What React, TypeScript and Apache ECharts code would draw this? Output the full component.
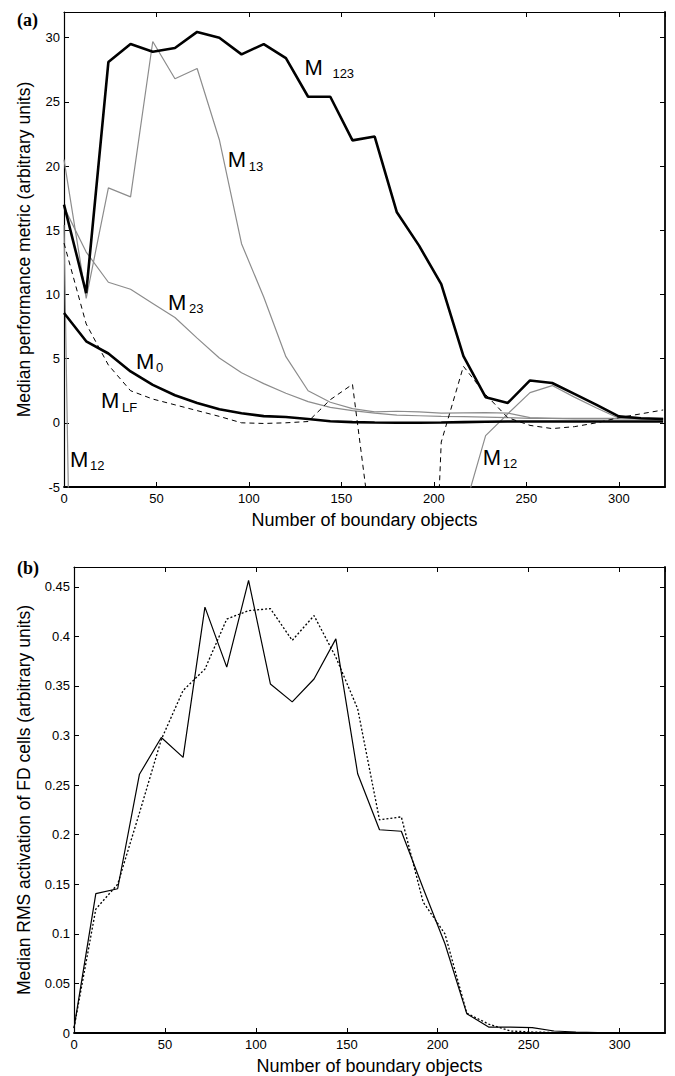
import React, { useEffect, useRef } from "react";
import * as echarts from "echarts";

// ---------- data ----------
const xs = [0, 12, 24, 36, 48, 60, 72, 84, 96, 108, 120, 132, 144, 156, 168, 180, 192, 204, 216, 228, 240, 252, 264, 276, 288, 300, 312, 324];

const m123 = [17.0, 10.1, 28.1, 29.5, 28.9, 29.2, 30.45, 30.0, 28.7, 29.5, 28.4, 25.4, 25.4, 22.0, 22.3, 16.4, 13.8, 10.8, 5.2, 2.0, 1.55, 3.3, 3.1, 2.25, 1.4, 0.5, 0.35, 0.3];
const m13 = [20.5, 9.7, 18.3, 17.6, 29.7, 26.8, 27.6, 22.05, 13.95, 9.8, 5.15, 2.5, 1.6, 1.1, 0.85, 0.9, 0.85, 0.75, 0.78, 0.8, 0.75, 0.4, 0.35, 0.35, 0.35, 0.35, 0.35, 0.35];
const m23 = [16.8, 13.3, 10.95, 10.4, 9.3, 8.2, 6.6, 5.05, 3.9, 3.05, 2.3, 1.65, 1.2, 0.95, 0.75, 0.6, 0.55, 0.5, 0.48, 0.45, 0.4, 0.35, 0.35, 0.3, 0.3, 0.3, 0.3, 0.3];
const m12 = [15.4, -90, null, null, null, null, null, null, null, null, null, null, null, null, null, null, null, null, -7.0, -1.0, 0.7, 2.35, 2.9, 2.0, 1.15, 0.35, 0.3, 0.25];
const mLF = [14.0, 7.7, 4.5, 2.5, 1.85, 1.4, 0.95, 0.5, 0.0, -0.05, 0.0, 0.1, 1.8, 3.0, -10.5, null, -43, -1.5, 4.4, 2.2, 0.4, -0.2, -0.45, -0.3, 0.0, 0.4, 0.7, 1.0];
const m0 = [8.55, 6.35, 5.4, 4.0, 2.95, 2.15, 1.55, 1.05, 0.75, 0.52, 0.45, 0.3, 0.12, 0.05, 0.02, 0.0, 0.0, 0.02, 0.05, 0.08, 0.1, 0.1, 0.1, 0.1, 0.1, 0.1, 0.1, 0.1];

const rmsSolid = [0.005, 0.1405, 0.1455, 0.261, 0.298, 0.278, 0.4295, 0.369, 0.4565, 0.352, 0.334, 0.357, 0.3975, 0.2615, 0.205, 0.2035, 0.146, 0.09, 0.0195, 0.006, 0.006, 0.0055, 0.002, 0.001, 0.0005, 0, 0, 0];
const rmsDotted = [0.005, 0.125, 0.15, 0.222, 0.296, 0.3455, 0.367, 0.4175, 0.426, 0.428, 0.396, 0.421, 0.379, 0.327, 0.215, 0.218, 0.132, 0.1, 0.02, 0.009, 0.002, 0.001, 0.0005, 0, 0, 0, 0, 0];

const xTitle = "Number of boundary objects";
const yTitleTop = "Median performance metric (arbitrary units)";
const yTitleBottom = "Median RMS activation of FD cells (arbitrary units)";

// curve labels: main letter + subscript, anchored in data coordinates of panel (a)
const curveLabels = [
  { sub: "123", x: 130, y: 27.7, dx: 28 },
  { sub: "13", x: 88.5, y: 20.5, dx: 21 },
  { sub: "23", x: 56.2, y: 9.4, dx: 21 },
  { sub: "0", x: 38.9, y: 4.8, dx: 20 },
  { sub: "LF", x: 20.0, y: 1.7, dx: 21 },
  { sub: "12", x: 3.2, y: -2.85, dx: 20 },
  { sub: "12", x: 226.4, y: -2.7, dx: 20 },
];

const SANS = "'Liberation Sans', Arial, Helvetica, sans-serif";
const SERIF = "'Liberation Serif', 'Times New Roman', serif";
const GRAY = "#8c8c8c";

const pairs = (ys: (number | null)[]) => xs.map((x, i) => [x, ys[i]]);

function xAxes(grid: number, top: boolean) {
  const common = {
    gridIndex: grid,
    type: "value",
    min: 0,
    max: 325,
    interval: 50,
    splitLine: { show: false },
    axisTick: { show: true, inside: true, length: 5, lineStyle: { color: "#000", width: 1 } },
  };
  if (top) {
    return {
      ...common,
      position: "top",
      axisLine: { show: true, onZero: false, lineStyle: { color: "#000", width: 1.2 } },
      axisLabel: { show: false },
    };
  }
  return {
    ...common,
    position: "bottom",
    axisLine: { show: true, onZero: false, lineStyle: { color: "#000", width: 1.8 } },
    axisLabel: {
      color: "#000",
      fontSize: 13,
      fontFamily: SANS,
      margin: 5,
      showMaxLabel: false,
      formatter: (v: number) => (v % 50 === 0 ? String(v) : ""),
    },
    name: xTitle,
    nameLocation: "middle",
    nameGap: 24,
    nameTextStyle: { color: "#000", fontSize: 18, fontFamily: SANS },
  };
}

function yAxes(grid: number, right: boolean, min: number, max: number, interval: number, title: string, gap: number, fmt: (v: number) => string) {
  const common = {
    gridIndex: grid,
    type: "value",
    min,
    max,
    interval,
    splitLine: { show: false },
    axisTick: { show: true, inside: true, length: 5, lineStyle: { color: "#000", width: 1 } },
  };
  if (right) {
    return {
      ...common,
      position: "right",
      axisLine: { show: true, onZero: false, lineStyle: { color: "#000", width: 1.8 } },
      axisLabel: { show: false },
    };
  }
  return {
    ...common,
    position: "left",
    axisLine: { show: true, onZero: false, lineStyle: { color: "#000", width: 1.2 } },
    axisLabel: {
      color: "#000",
      fontSize: 13,
      fontFamily: SANS,
      margin: 4,
      showMaxLabel: false,
      formatter: fmt,
    },
    name: title,
    nameLocation: "middle",
    nameGap: gap,
    nameTextStyle: { color: "#000", fontSize: 17.5, fontFamily: SANS },
  };
}

export default function App() {
  const ref = useRef<HTMLDivElement>(null);

  useEffect(() => {
    if (!ref.current) return;
    const chart = echarts.init(ref.current, null, { renderer: "svg" });

    const lineBase = { type: "line", showSymbol: false, symbol: "none", clip: true, connectNulls: false };

    const option: any = {
      animation: false,
      backgroundColor: "#fff",
      grid: [
        { left: 64, top: 12, width: 601, height: 475 },
        { left: 74, top: 567, width: 591, height: 466 },
      ],
      xAxis: [xAxes(0, false), xAxes(0, true), xAxes(1, false), xAxes(1, true)],
      yAxis: [
        yAxes(0, false, -5, 32, 5, yTitleTop, 31, (v: number) => (v % 5 === 0 ? String(v) : "")),
        yAxes(0, true, -5, 32, 5, "", 0, (v: number) => ""),
        yAxes(1, false, 0, 0.47, 0.05, yTitleBottom, 41, (v: number) => {
          const r = Math.round(v * 100) / 100;
          return Math.abs(v * 20 - Math.round(v * 20)) < 1e-6 ? String(r) : "";
        }),
        yAxes(1, true, 0, 0.47, 0.05, "", 0, (v: number) => ""),
      ],
      series: [
        { ...lineBase, name: "M13", xAxisIndex: 0, yAxisIndex: 0, data: pairs(m13), lineStyle: { color: GRAY, width: 1.2 } },
        { ...lineBase, name: "M23", xAxisIndex: 0, yAxisIndex: 0, data: pairs(m23), lineStyle: { color: GRAY, width: 1.2 } },
        { ...lineBase, name: "M12", xAxisIndex: 0, yAxisIndex: 0, data: pairs(m12), lineStyle: { color: GRAY, width: 1.2 } },
        { ...lineBase, name: "MLF", xAxisIndex: 0, yAxisIndex: 0, data: pairs(mLF), lineStyle: { color: "#000", width: 1, type: [5, 4] } },
        { ...lineBase, name: "M0", xAxisIndex: 0, yAxisIndex: 0, data: pairs(m0), lineStyle: { color: "#000", width: 2.6 } },
        { ...lineBase, name: "M123", xAxisIndex: 0, yAxisIndex: 0, data: pairs(m123), lineStyle: { color: "#000", width: 2.6 } },
        { ...lineBase, name: "RMS dotted", xAxisIndex: 2, yAxisIndex: 2, data: pairs(rmsDotted), lineStyle: { color: "#000", width: 1.3, type: [2, 2] } },
        { ...lineBase, name: "RMS solid", xAxisIndex: 2, yAxisIndex: 2, data: pairs(rmsSolid), lineStyle: { color: "#000", width: 1.2 } },
      ],
    };

    chart.setOption(option);

    const graphics: any[] = [
      { type: "text", x: 17, y: 20, style: { text: "(a)", fontSize: 18, fontWeight: "bold", fontFamily: SERIF, fill: "#000", verticalAlign: "middle", align: "left" } },
      { type: "text", x: 17, y: 568, style: { text: "(b)", fontSize: 18, fontWeight: "bold", fontFamily: SERIF, fill: "#000", verticalAlign: "middle", align: "left" } },
    ];
    curveLabels.forEach((lab) => {
      const p = chart.convertToPixel({ xAxisIndex: 0, yAxisIndex: 0 } as any, [lab.x, lab.y]) as number[];
      graphics.push({ type: "text", x: p[0], y: p[1], style: { text: "M", fontSize: 22, fontFamily: SANS, fill: "#000", verticalAlign: "middle", align: "left" } });
      graphics.push({ type: "text", x: p[0] + lab.dx, y: p[1] + 6.5, style: { text: lab.sub, fontSize: 13, fontFamily: SANS, fill: "#000", verticalAlign: "middle", align: "left" } });
    });
    chart.setOption({ graphic: graphics });

    return () => chart.dispose();
  }, []);

  return <div ref={ref} style={{ position: "fixed", left: 0, top: 0, width: 675, height: 1076, background: "#fff" }} />;
}
